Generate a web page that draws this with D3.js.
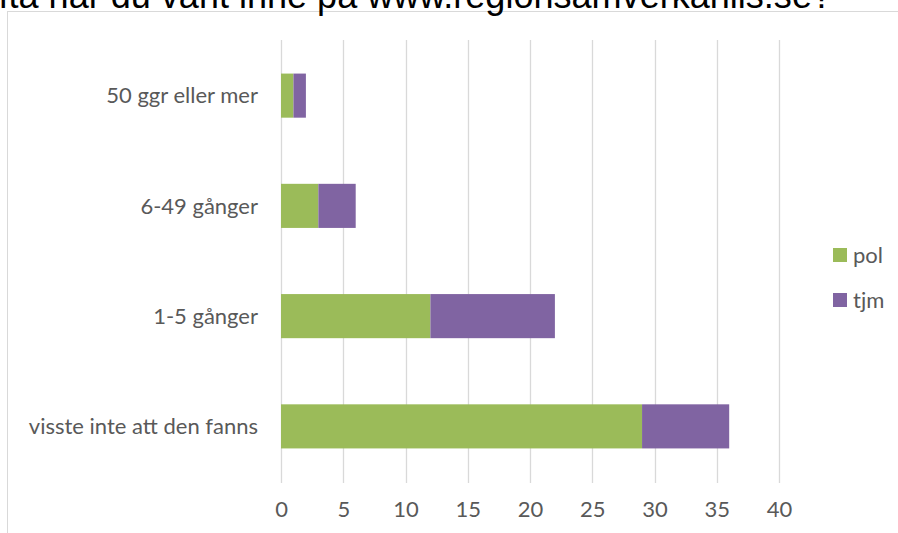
<!DOCTYPE html>
<html><head><meta charset="utf-8">
<script src="https://cdn.jsdelivr.net/npm/d3@7"></script>
<style>
html,body{margin:0;padding:0;background:#fff;overflow:hidden;}
svg{display:block;}
</style></head>
<body>
<script>
const categories = ["50 ggr eller mer", "6-49 gånger", "1-5 gånger", "visste inte att den fanns"];
const seriesNames = ["pol", "tjm"];
const polValues = [1, 3, 12, 29];
const tjmValues = [1, 3, 10, 7];
const xTicks = [0, 5, 10, 15, 20, 25, 30, 35, 40];
const colors = ["#9BBB59", "#8064A2"];
const titleText = "Hur ofta har du varit inne på www.regionsamverkanlis.se?";
const visibleTitle = "fta har du varit inne på www.regionsamverkanlis.se?";

const W = 898, H = 533;
const svg = d3.select("body").append("svg").attr("width", W).attr("height", H);

// chart frame
svg.append("rect").attr("x", 7.5).attr("y", 11.5).attr("width", W + 10).attr("height", H + 10)
  .attr("fill", "#fff").attr("stroke", "#D9D9D9").attr("stroke-width", 1);

// title (cropped at top)
const title = svg.append("text").attr("font-family", "Liberation Sans, Arial, sans-serif")
  .attr("fill", "#000").attr("text-anchor", "end").attr("x", 832).attr("y", 7.5);
{
  const probe = svg.append("text").attr("font-family", "Liberation Sans, Arial, sans-serif")
    .attr("font-size", 30).text(visibleTitle);
  const w = probe.node().getComputedTextLength();
  probe.remove();
  title.attr("font-size", 30 * 834 / w).text(titleText);
}

const data = categories.map((c, i) => ({cat: c, pol: polValues[i], tjm: tjmValues[i]}));
const stack = d3.stack().keys(seriesNames)(data);

const x = d3.scaleLinear().domain([0, 40]).range([281, 779]);
const y = d3.scaleBand().domain(categories).range([40.5, 481.5]).paddingInner(0.6).paddingOuter(0.3);

// gridlines
svg.append("g").selectAll("line").data(xTicks).join("line")
  .attr("x1", d => Math.round(x(d)) + 0.5).attr("x2", d => Math.round(x(d)) + 0.5)
  .attr("y1", 40).attr("y2", 483)
  .attr("stroke", "#D9D9D9").attr("stroke-width", 1.3);

// bars
svg.append("g").selectAll("g").data(stack).join("g")
  .attr("fill", (d, i) => colors[i])
  .selectAll("rect").data(d => d).join("rect")
  .attr("x", d => x(d[0])).attr("width", d => x(d[1]) - x(d[0]))
  .attr("y", d => y(d.data.cat)).attr("height", y.bandwidth());

const labelFont = "Lato, 'Open Sans', sans-serif";
const fs = 22;

// x axis
const xAxis = d3.axisBottom(x).tickValues(xTicks).tickSize(0).tickPadding(0);
const gx = svg.append("g").attr("transform", "translate(0,496)").call(xAxis);
gx.select(".domain").remove();
gx.selectAll("text").attr("font-family", labelFont).attr("font-size", fs).attr("fill", "#595959").attr("dy", "0.95em");

// y axis
const yAxis = d3.axisLeft(y).tickSize(0).tickPadding(0);
const gy = svg.append("g").attr("transform", "translate(258,0)").call(yAxis);
gy.select(".domain").remove();
gy.selectAll("text").attr("font-family", labelFont).attr("font-size", fs).attr("fill", "#595959").attr("dy", "0.35em");

// legend
const lg = svg.append("g").selectAll("g").data(seriesNames).join("g")
  .attr("transform", (d, i) => `translate(833,${248 + i * 45})`);
lg.append("rect").attr("width", 14).attr("height", 14).attr("fill", (d, i) => colors[i]);
lg.append("text").attr("x", 20).attr("y", 7).attr("dy", "0.35em")
  .attr("font-family", labelFont).attr("font-size", fs).attr("fill", "#595959").text(d => d);
</script>
</body></html>
